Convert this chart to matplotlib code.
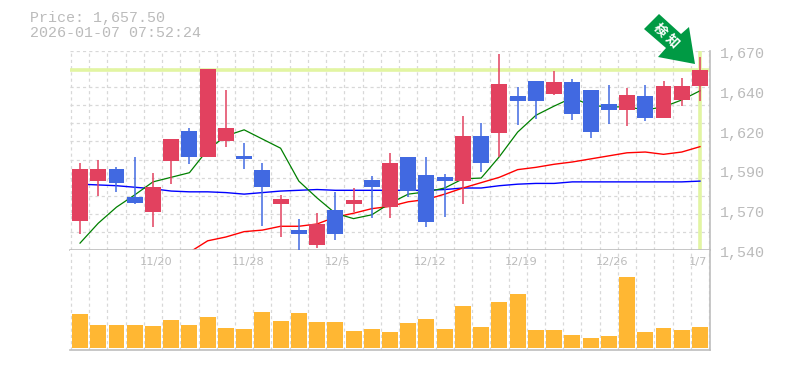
import matplotlib
matplotlib.use("Agg")
import matplotlib.pyplot as plt
from matplotlib.patches import Polygon
import numpy as np

W, H = 785, 370

opens = [1559, 1585, 1593, 1574.5, 1565, 1598, 1617.5, 1601, 1611, 1601.5, 1592.5, 1570,
         1553, 1543.5, 1566, 1570, 1585.5, 1568, 1601, 1589, 1587.5, 1585, 1614.5, 1616.5,
         1640.5, 1650.5, 1642, 1650, 1644.5, 1635.5, 1631.5, 1640.5, 1626, 1638, 1647]
closes = [1593, 1593, 1584, 1570.5, 1581, 1612.5, 1601, 1658, 1619.5, 1599.5, 1581, 1573,
          1550.5, 1557, 1550.5, 1572.5, 1581, 1597, 1578.5, 1558.5, 1585, 1614.5, 1597, 1648.5,
          1637.5, 1637.5, 1650, 1629, 1617, 1631.5, 1641.5, 1626, 1647, 1647, 1657.5]
highs = [1597, 1599, 1594, 1601, 1590.5, 1612.5, 1619.5, 1658, 1644.5, 1610, 1597, 1576,
         1560.5, 1564, 1578, 1580.5, 1588.5, 1603.5, 1601, 1601, 1589.5, 1627.5, 1623, 1668,
         1646.5, 1650.5, 1657, 1651.5, 1644.5, 1648, 1646, 1648, 1650.5, 1652.5, 1666]
lows = [1550.5, 1575.5, 1578, 1570, 1555, 1583, 1596, 1601, 1607.5, 1593, 1555.5, 1548.5,
        1539.5, 1541.5, 1546.5, 1565, 1561, 1561, 1574.5, 1555, 1561.5, 1570, 1591, 1601,
        1621.5, 1625.5, 1641.5, 1625, 1613, 1622.5, 1621, 1624.5, 1626, 1634, 1637.5]

ma_short = [1544.5, 1557.5, 1568, 1576, 1584.5, 1587.5, 1590.5, 1605.5, 1614.5, 1618.5, 1612.5, 1606.5,
            1585, 1574, 1564, 1560.5, 1563, 1570.5, 1576.5, 1578, 1580.5, 1586.5, 1587, 1601,
            1617, 1628, 1634, 1639.5, 1634.5, 1633.5, 1633.5, 1631.5, 1633.5, 1638, 1644]
ma_mid = [np.nan, np.nan, np.nan, np.nan, np.nan, np.nan, 1538.5, 1546, 1548.5, 1552, 1553, 1555.5,
          1555.5, 1557, 1561.5, 1564, 1567, 1568.5, 1571.5, 1573, 1576.5, 1580.5, 1584, 1587.5,
          1592.5, 1594, 1596, 1597.5, 1599.5, 1601.5, 1603.5, 1604, 1602.5, 1604, 1607.5]
ma_long = [1583, 1582.5, 1582, 1581, 1580, 1578.5, 1578, 1578, 1577.5, 1576.5, 1577.5, 1578.5,
           1579, 1579.5, 1579, 1579, 1579, 1579, 1579, 1579, 1579.5, 1580.5, 1580.5, 1582,
           1583, 1583.5, 1583.5, 1584.5, 1584.5, 1584.5, 1584.5, 1584.5, 1584.5, 1584.5, 1585]

volumes = [34, 23, 23, 23, 22, 28, 23, 31, 20, 19, 36, 27, 35, 26, 26, 17, 19, 16,
           25, 29, 19, 42, 21, 46, 54, 18, 18, 13, 10, 12, 71, 16, 20, 18, 21]

date_pos = [4.17, 9.2, 14.1, 19.2, 24.2, 29.2, 33.9]
date_labels = ["11/20", "11/28", "12/5", "12/12", "12/19", "12/26", "1/7"]

price_ticks = [1670, 1644, 1618, 1592, 1566, 1540]
price_labels = ["1,670", "1,640", "1,620", "1,590", "1,570", "1,540"]
last_price = 1657.5

RED = "#E2415F"
BLUE = "#4169E1"
ORANGE = "#FFB733"
GRID = "#D8D8D8"
AXIS = "#BDBDBD"
TEXT = "#BBBBBB"
MARK = "#E2F5A2"
MONO = "Liberation Mono"

fig = plt.figure(figsize=(W / 100, H / 100), dpi=100)
ax = fig.add_axes([70 / W, (H - 250) / H, 640 / W, 199 / H])
vol = fig.add_axes([70 / W, (H - 350) / H, 640 / W, 100 / H])

x = np.arange(len(opens))
up = np.array(closes) >= np.array(opens)
colors = [RED if u else BLUE for u in up]

for a in (ax, vol):
    a.set_xlim(-0.55, 34.55)
    a.set_xticks(np.arange(-0.5, 35, 1))
    a.tick_params(length=0, labelbottom=False, labelleft=False)
    a.grid(axis="x", color=GRID, linestyle=(0, (2.5, 2.5)), linewidth=0.9)
    a.set_axisbelow(True)
    for s in a.spines.values():
        s.set_visible(False)
    a.spines["bottom"].set_visible(True)
    a.spines["right"].set_visible(True)
    a.spines["bottom"].set_color(AXIS)
    a.spines["right"].set_color(AXIS)
    a.spines["bottom"].set_linewidth(1.2)
    a.spines["right"].set_linewidth(1.2)

ax.set_ylim(1540, 1670)
ax.set_yticks(np.linspace(1540, 1670, 12))
ax.grid(axis="y", color=GRID, linestyle=(0, (2.5, 2.5)), linewidth=0.9)

ax.axhline(last_price, color=MARK, linewidth=2.6, zorder=1.5)
ax.axvline(x[-1], color=MARK, linewidth=2.6, zorder=1.5)

ax.plot(x, ma_long, color="#0000FF", linewidth=1.0, zorder=2)
ax.plot(x, ma_mid, color="#FF0000", linewidth=1.0, zorder=2)
ax.plot(x, ma_short, color="#008000", linewidth=0.9, zorder=2)

ax.vlines(x, lows, highs, colors=colors, linewidth=1.1, zorder=3)
ax.bar(x, np.abs(np.array(closes) - np.array(opens)), bottom=np.minimum(opens, closes),
       width=0.877, color=colors, zorder=4)

vol.set_ylim(-2, 98)
vol.bar(x, volumes, width=0.877, color=ORANGE, zorder=3)

for pos, lab in zip(date_pos, date_labels):
    vol.annotate(lab, (pos, 98), xytext=(0, -12), textcoords="offset pixels", ha="center", va="center",
                 color=TEXT, fontsize=8.2, family="DejaVu Sans", annotation_clip=False)

for tick, lab in zip(price_ticks, price_labels):
    ax.annotate(lab, (1, tick), xycoords=("axes fraction", "data"), xytext=(10, -3), textcoords="offset pixels",
                ha="left", va="center", color=TEXT, fontsize=10.8, family=MONO, annotation_clip=False)

fig.text(30 / W, 1 - 18 / H, "Price: 1,657.50", color=TEXT, fontsize=10.8, family=MONO, va="center")
fig.text(30 / W, 1 - 33 / H, "2026-01-07 07:52:24", color=TEXT, fontsize=10.8, family=MONO, va="center")

# green badge pointing at the last candle
badge = [(644, 29), (659, 14), (681, 34), (689, 27), (695, 64), (658, 57), (666, 48)]
fig.add_artist(Polygon([(px / W, 1 - py / H) for px, py in badge], closed=True,
                       transform=fig.transFigure, facecolor="#009A44", edgecolor="none", zorder=10))
for cx, cy, ch in [(660, 30, "検"), (672.5, 41, "知")]:
    fig.text(cx / W, 1 - cy / H, ch, color="white", fontsize=9.5, fontweight="bold",
             family=["Noto Sans CJK JP", "DejaVu Sans"], rotation=-45, rotation_mode="anchor",
             ha="center", va="center", zorder=11)

fig.savefig("out.png", dpi=100)
